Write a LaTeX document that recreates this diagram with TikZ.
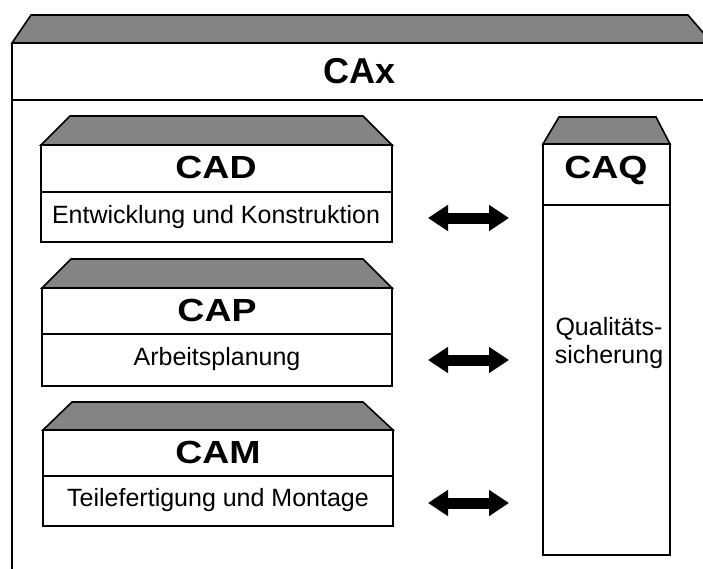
\documentclass[tikz,border=0pt]{standalone}
\usepackage{fontspec}
\setmainfont{Liberation Sans}
\newfontfamily\widebold[FakeStretch=1.17]{Liberation Sans Bold}
\usetikzlibrary{arrows.meta}
\definecolor{roofgray}{RGB}{132,132,132}
\tikzset{
  roof/.style={fill=roofgray, draw=black, line width=1.6pt, line join=miter},
  frame/.style={draw=black, line width=2.4pt},
  divider/.style={draw=black, line width=2pt},
  bigtitle/.style={font=\bfseries\fontsize{36}{40}\selectfont, inner sep=0pt, anchor=base},
  boxtitle/.style={font=\widebold\fontsize{32}{36}\selectfont, inner sep=0pt, anchor=base},
  boxtext/.style={font=\fontsize{25}{28}\selectfont, inner sep=0pt, anchor=base},
  link/.style={line width=11pt, {Triangle[length=20pt,width=25pt]}-{Triangle[length=20pt,width=25pt]}}
}
\begin{document}
\begin{tikzpicture}[x=1pt,y=-1pt]
\useasboundingbox (0,0) rectangle (703,568);

% outer CAx frame
\fill[roofgray] (31,15) -- (688,15) -- (712,43) -- (12,43) -- cycle;
\draw[line width=1.6pt] (712,43) -- (12,43) -- (31,15) -- (688,15) -- (712,43);
\draw[frame] (12,43) -- (12,575);
\draw[divider] (12,100) -- (712,100);
\node[bigtitle] (cax) at (360,83) {CAx};

% CAD
\draw[roof] (70,116) -- (363,116) -- (392,145) -- (41,145) -- cycle;
\draw[frame] (41,145) rectangle (392,242);
\draw[divider] (41,192) -- (392,192);
\node[boxtitle] (cad) at (216,178) {CAD};
\node[boxtext] (cadtxt) at (216,223) {Entwicklung und Konstruktion};

% CAP
\draw[roof] (71,259) -- (363,259) -- (392,288) -- (42,288) -- cycle;
\draw[frame] (42,288) rectangle (392,386);
\draw[divider] (42,334) -- (392,334);
\node[boxtitle] (cap) at (217,321) {CAP};
\node[boxtext] (captxt) at (217,365) {Arbeitsplanung};

% CAM
\draw[roof] (72,402) -- (363,402) -- (393,430) -- (43,430) -- cycle;
\draw[frame] (43,430) rectangle (393,526);
\draw[divider] (43,476) -- (393,476);
\node[boxtitle] (cam) at (218,463) {CAM};
\node[boxtext] (camtxt) at (218,506) {Teilefertigung und Montage};

% CAQ
\draw[roof] (559,117) -- (656,117) -- (670,144) -- (543,144) -- cycle;
\draw[frame] (543,144) rectangle (670,555);
\draw[divider] (543,205) -- (670,205);
\node[boxtitle] (caq) at (606,178) {CAQ};
\node[boxtext] (caqa) at (609,335) {Qualitäts-};
\node[boxtext] (caqb) at (609,363) {sicherung};

% exchange arrows between the modules and CAQ
\coordinate (a1l) at (428,218); \coordinate (a1r) at (509,218);
\coordinate (a2l) at (428,360); \coordinate (a2r) at (509,360);
\coordinate (a3l) at (428,503); \coordinate (a3r) at (509,503);
\draw[link] (a1l) -- (a1r);
\draw[link] (a2l) -- (a2r);
\draw[link] (a3l) -- (a3r);
\end{tikzpicture}
\end{document}
